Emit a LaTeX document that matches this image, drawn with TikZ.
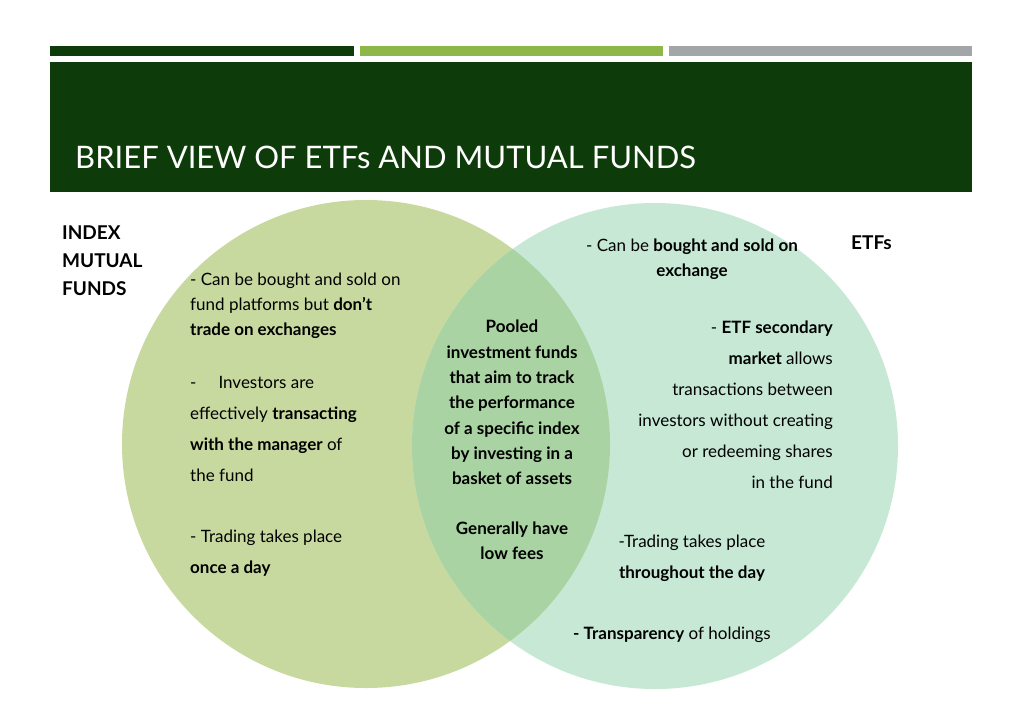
\documentclass[tikz,border=0pt]{standalone}
\usepackage{fontspec}
\setmainfont{Lato}
\definecolor{darkgreen}{HTML}{0E3B0A}
\definecolor{lightgreen}{HTML}{8DB849}
\definecolor{bargray}{HTML}{A3A6A8}
\definecolor{leftfill}{HTML}{C8D9A0}
\definecolor{rightfill}{HTML}{C6E8D5}
\definecolor{midfill}{HTML}{A9D3A2}
\tikzset{
  txt/.style={font=\fontsize{17}{25}\selectfont, align=left, inner sep=0pt},
  lbl/.style={font=\fontsize{19}{28}\selectfont\bfseries, align=left, inner sep=0pt},
}
\begin{document}
\begin{tikzpicture}[x=1pt,y=-1pt]
    \useasboundingbox[fill=white] (0,0) rectangle (1024,709);
    % bars and header
    \fill[darkgreen] (50,46) rectangle (354,56);
    \fill[lightgreen] (360,46) rectangle (663,56);
    \fill[bargray] (669,46) rectangle (972,56);
    \fill[darkgreen] (50,62) rectangle (972,192);
    \node[anchor=west, text=white, inner sep=0pt,
          font=\fontsize{31}{36}\selectfont] (title) at (75,157)
          {BRIEF VIEW OF ETFs AND MUTUAL FUNDS};
    % circles
    \fill[leftfill] (366,444) circle (244);
    \fill[rightfill] (655,446) circle (243);
    \begin{scope}
        \clip (366,444) circle (244);
        \fill[midfill] (655,446) circle (243);
    \end{scope}
    % labels
    \node[lbl, anchor=north west] (imf) at (62,226) {INDEX\\MUTUAL\\FUNDS};
    \node[lbl, anchor=north west] (etf) at (851,236) {ETFs};
    % left text
    \node[txt, anchor=north west] (l1) at (190,273)
        {- Can be bought and sold on\\fund platforms but \textbf{don't}\\\textbf{trade on exchanges}};
    \node[txt, anchor=north west, font=\fontsize{17}{31}\selectfont] (l2) at (190,376)
        {-\hspace{22pt}Investors are\\effectively \textbf{transacting}\\\textbf{with the manager} of\\the fund};
    \node[txt, anchor=north west, font=\fontsize{17}{31}\selectfont] (l3) at (190,530)
        {- Trading takes place\\\textbf{once a day}};
    % middle text
    \node[txt, align=center, anchor=north, font=\fontsize{17}{25.3}\selectfont\bfseries] (m1) at (512,320)
        {Pooled\\investment funds\\that aim to track\\the performance\\of a specific index\\by investing in a\\basket of assets};
    \node[txt, align=center, anchor=north, font=\fontsize{17}{25}\selectfont\bfseries] (m2) at (512,522)
        {Generally have\\low fees};
    % right text
    \node[txt, align=center, anchor=north] (r1) at (692,239)
        {- Can be \textbf{bought and sold on}\\\textbf{exchange}};
    \node[txt, align=right, anchor=north east, font=\fontsize{17}{31}\selectfont] (r2) at (833,321)
        {- \textbf{ETF secondary}\\\textbf{market} allows\\transactions between\\investors without creating\\or redeeming shares\\in the fund};
    \node[txt, align=center, anchor=north, font=\fontsize{17}{31}\selectfont] (r3) at (692,535)
        {-Trading takes place\\\textbf{throughout the day}};
    \node[txt, anchor=north west] (r4) at (573,627)
        {\textbf{- Transparency} of holdings};
\end{tikzpicture}
\end{document}
